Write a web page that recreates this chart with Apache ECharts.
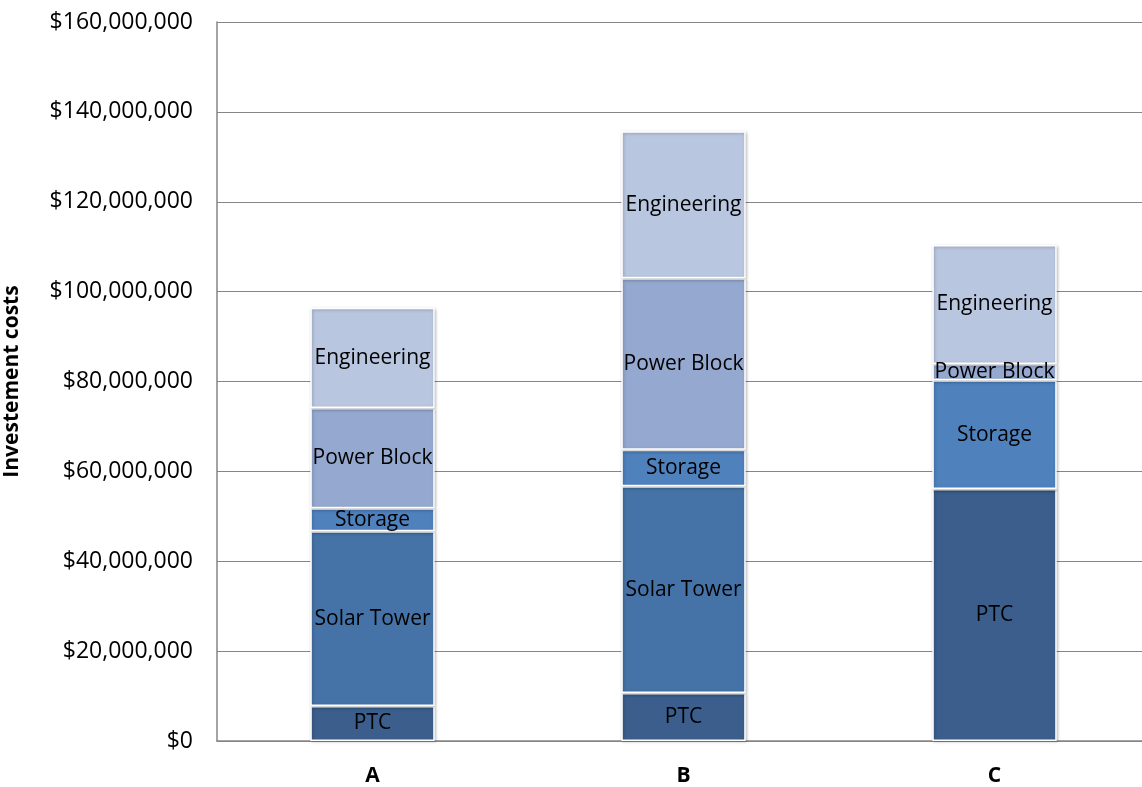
<!DOCTYPE html>
<html>
<head>
<meta charset="utf-8">
<script src="https://cdn.jsdelivr.net/npm/echarts@6/dist/echarts.min.js"></script>
<style>html,body{margin:0;padding:0;background:#fff;}#c{width:1142px;height:787px;}</style>
</head>
<body>
<div id="c"></div>
<script>
const categories = ['A', 'B', 'C'];
const seriesNames = ['PTC', 'Solar Tower', 'Storage', 'Power Block', 'Engineering'];
const ptc = [7800000, 10700000, 56100000];
const solarTower = [38900000, 46000000, 0];
const storage = [5100000, 8100000, 24200000];
const powerBlock = [22300000, 38200000, 3600000];
const engineering = [22300000, 32700000, 26500000];
const yTicks = [0, 20000000, 40000000, 60000000, 80000000, 100000000, 120000000, 140000000, 160000000];
const colors = ['#3B5E8C', '#4573A7', '#4F81BD', '#95A9D0', '#B9C6E0'];
const seriesData = [ptc, solarTower, storage, powerBlock, engineering];

const font = '"Open Sans", "Liberation Sans", sans-serif';
const chart = echarts.init(document.getElementById('c'));
chart.setOption({
  animation: false,
  backgroundColor: '#fff',
  grid: { left: 217, right: -8, top: 22, bottom: 46, outerBoundsMode: 'none', containLabel: false },
  xAxis: {
    type: 'category',
    data: categories,
    axisLine: { show: true, lineStyle: { color: '#868686', width: 1.5 } },
    axisTick: { show: false },
    axisLabel: { fontFamily: font, fontWeight: 'bold', fontSize: 21, color: '#000', margin: 25 }
  },
  yAxis: {
    type: 'value',
    min: yTicks[0],
    max: yTicks[yTicks.length - 1],
    interval: yTicks[1] - yTicks[0],
    name: 'Investement costs',
    nameLocation: 'middle',
    nameGap: 194,
    nameTextStyle: { fontFamily: font, fontWeight: 'bold', fontSize: 21, color: '#000' },
    axisLine: { show: true, lineStyle: { color: '#868686', width: 1.5 } },
    axisTick: { show: false },
    splitLine: { lineStyle: { color: '#868686', width: 1.2 } },
    axisLabel: {
      fontFamily: font, fontSize: 23, color: '#000', margin: 24,
      formatter: v => '$' + v.toLocaleString('en-US')
    }
  },
  series: seriesNames.map((name, i) => ({
    name: name,
    type: 'bar',
    stack: 'total',
    barWidth: '40%',
    data: seriesData[i],
    itemStyle: {
      color: colors[i], borderColor: '#fff', borderWidth: 1.5,
      shadowColor: 'rgba(0,0,0,0.25)', shadowBlur: 3, shadowOffsetX: 1, shadowOffsetY: 1
    },
    label: {
      show: true, position: 'inside', formatter: p => p.value > 0 ? name : '',
      fontFamily: font, fontSize: 21, color: '#000'
    }
  }))
});
</script>
</body>
</html>
